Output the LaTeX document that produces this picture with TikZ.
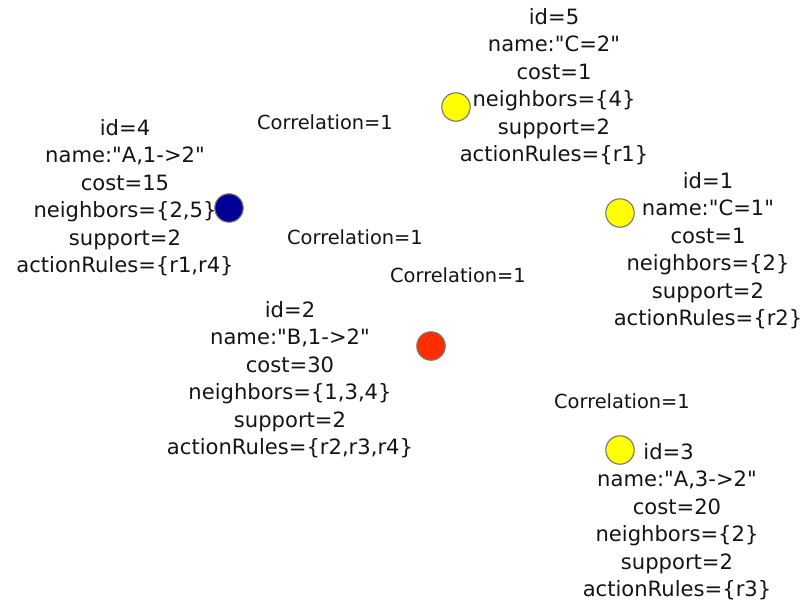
\documentclass[tikz,border=0pt]{standalone}
\usepackage{fontspec}
\setmainfont{DejaVu Sans}
\usetikzlibrary{positioning}
\definecolor{ink}{RGB}{20,20,20}
\definecolor{rim}{RGB}{120,120,110}
\definecolor{leaf}{RGB}{255,255,0}
\definecolor{root}{RGB}{0,0,150}
\definecolor{hub}{RGB}{255,45,0}
% straight double quote, kept out of the TeX ligature mapping
\newcommand{\qm}{\XeTeXglyph\XeTeXcharglyph"22\relax}
\tikzset{
  every picture/.style={color=ink, line width=0.6pt},
  vertex/.style={circle, draw=rim, line width=0.8pt, minimum size=0.71cm, inner sep=0pt},
  info/.style={align=center, inner sep=0pt, font=\fontsize{15}{19.5}\selectfont},
  corr/.style={inner sep=0pt, font=\fontsize{13.8}{15}\selectfont},
}

\begin{document}
\begin{tikzpicture}[x=0.025cm, y=-0.025cm]
  \useasboundingbox (0,0) rectangle (804,601);
  % itemset vertices
  \node[vertex, fill=leaf] (v5) at (456,107) {};
  \node[vertex, fill=root] (v4) at (229,208) {};
  \node[vertex, fill=leaf] (v1) at (620,213) {};
  \node[vertex, fill=hub]  (v2) at (431,346) {};
  \node[vertex, fill=leaf] (v3) at (620,450) {};
  % attributes of each vertex
  \node[info, anchor=north] (t5) at (554,8)   {id=5\\ name:\qm C=2\qm\\ cost=1\\ neighbors=\{4\}\\ support=2\\ actionRules=\{r1\}};
  \node[info, anchor=north] (t4) at (125,119) {id=4\\ name:\qm A,1->2\qm\\ cost=15\\ neighbors=\{2,5\}\\ support=2\\ actionRules=\{r1,r4\}};
  \node[info, anchor=north] (t1) at (708,172) {id=1\\ name:\qm C=1\qm\\ cost=1\\ neighbors=\{2\}\\ support=2\\ actionRules=\{r2\}};
  \node[info, anchor=north] (t2) at (290,301) {id=2\\ name:\qm B,1->2\qm\\ cost=30\\ neighbors=\{1,3,4\}\\ support=2\\ actionRules=\{r2,r3,r4\}};
  \node[info, anchor=north] (t3) at (677,443) {\hspace*{-12pt}id=3\\ name:\qm A,3->2\qm\\ cost=20\\ neighbors=\{2\}\\ support=2\\ actionRules=\{r3\}};
  % edge weights
  \node[corr] (c54) at (325,122) {Correlation=1};
  \node[corr] (c42) at (355,237) {Correlation=1};
  \node[corr] (c21) at (458,275) {Correlation=1};
  \node[corr] (c23) at (622,401) {Correlation=1};
\end{tikzpicture}
\end{document}
